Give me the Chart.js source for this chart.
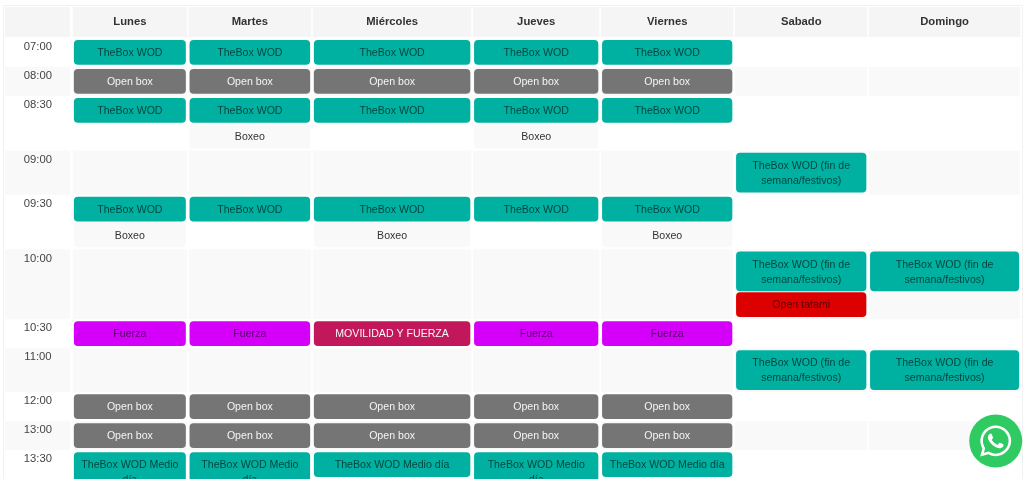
<!DOCTYPE html>
<html lang="es">
<head>
<meta charset="utf-8">
<style>html,body{margin:0;padding:0;background:#fff;overflow:hidden}canvas{display:block}</style>
<script src="https://cdn.jsdelivr.net/npm/chart.js@4/dist/chart.umd.min.js"></script>
</head>
<body>
<canvas id="c" width="1024" height="479"></canvas>
<script>
// ---- DATA ----
const days = ["Lunes","Martes","Miércoles","Jueves","Viernes","Sabado","Domingo"];
const times = ["07:00","08:00","08:30","09:00","09:30","10:00","10:30","11:00","12:00","13:00","13:30"];
// Which hour row each schedule slot belongs to (two entries = two stacked classes in that hour)
const slotTimes = ["07:00","08:00","08:30","08:30","09:00","09:30","09:30","10:00","10:00","10:30","11:00","12:00","13:00","13:30"];
const W="TheBox WOD", O="Open box", B="Boxeo", F="Fuerza", M="TheBox WOD Medio día",
      S="TheBox WOD (fin de semana/festivos)", T="Open tatami", V="MOVILIDAD Y FUERZA", _=null;
const lunes     = [W,O,W,_,_,W,B,_,_,F,_,O,O,M];
const martes    = [W,O,W,B,_,W,_,_,_,F,_,O,O,M];
const miercoles = [W,O,W,_,_,W,B,_,_,V,_,O,O,M];
const jueves    = [W,O,W,B,_,W,_,_,_,F,_,O,O,M];
const viernes   = [W,O,W,_,_,W,B,_,_,F,_,O,O,M];
const sabado    = [_,_,_,_,S,_,_,S,T,_,S,_,_,_];
const domingo   = [_,_,_,_,_,_,_,S,_,_,S,_,_,_];
const schedule  = [lunes,martes,miercoles,jueves,viernes,sabado,domingo];

// ---- STYLE / LAYOUT ----
const columnWidths = [115.7,124.3,160.2,128,134,134,152.8];
const styles = {
  [W]:{bg:"#00b1a1",fg:"rgba(0,0,0,.62)"},[M]:{bg:"#00b1a1",fg:"rgba(0,0,0,.62)"},[S]:{bg:"#00b1a1",fg:"rgba(0,0,0,.62)"},
  [O]:{bg:"#757575",fg:"#f5f5f5"},[B]:{bg:"#f9f9f9",fg:"#333"},
  [F]:{bg:"#d500f9",fg:"rgba(0,0,0,.6)"},[T]:{bg:"#dd0000",fg:"rgba(0,0,0,.6)"},[V]:{bg:"#c2185b",fg:"#f8f8f8"}
};
const FF = '"Liberation Sans", Arial, sans-serif';
const cardFont = "10.6px "+FF;
const AXIS_W = 72, AXIS_H = 38, cardInset = 2.2, cellInset = 0.8;
const oneLine = 24, twoLines = 39, innerGap = 1.8, rowGap = 5, firstTop = 2.3;

// column geometry
const colEdges = [0]; columnWidths.forEach(w => colEdges.push(colEdges[colEdges.length-1]+w));
const colCenters = columnWidths.map((w,i)=>colEdges[i]+w/2);

// text wrapping decides how tall each card is
const mctx = document.createElement("canvas").getContext("2d"); mctx.font = cardFont;
function wrap(text, maxW){
  const lines=[]; let cur="";
  for(const word of text.split(" ")){
    const t = cur? cur+" "+word : word;
    if(cur && mctx.measureText(t).width>maxW){lines.push(cur);cur=word;} else cur=t;
  }
  lines.push(cur); return lines;
}
const cardLines = schedule.map((col,d)=>col.map(t=> t? wrap(t,columnWidths[d]-2*cardInset-12):null));
const lineH = n => n>1 ? twoLines : oneLine;

// slot tops flow from the row structure
const slotTop=[]; const slotH=[];
let cursor=firstTop;
slotTimes.forEach((t,s)=>{
  if(s>0) cursor += (slotTimes[s-1]===t) ? innerGap : rowGap;
  const n = Math.max(...cardLines.map(c=>c[s]?c[s].length:1));
  const h = lineH(n);
  slotTop.push(cursor); slotH.push(h); cursor+=h;
});
const rowTop = times.map(t=>slotTop[slotTimes.indexOf(t)]-2.5);
const rowBottom = times.map(t=>{const s=slotTimes.lastIndexOf(t);return slotTop[s]+slotH[s]+2.5;});

const datasets = schedule.map((col,d)=>{
  const idx = col.map((t,s)=>t?s:-1).filter(s=>s>=0);
  return {
    label:days[d], stack:"agenda", barThickness:columnWidths[d]-2*cardInset,
    data: idx.map(s=>({x:colCenters[d], y:[slotTop[s], slotTop[s]+lineH(cardLines[d][s].length)], text:col[s], lines:cardLines[d][s]})),
    backgroundColor: idx.map(s=>styles[col[s]].bg),
    borderRadius:4, borderSkipped:false, borderWidth:0
  };
});

const tablePlugin = {
  id:"table",
  beforeDraw(chart){
    const {ctx,scales:{x,y}}=chart;
    ctx.save();
    ctx.fillStyle="#f1f1f1";
    ctx.fillRect(3,5,1019,1); ctx.fillRect(3,5,1,474); ctx.fillRect(1022,5,1,474);
    // header cells
    ctx.fillStyle="#f5f5f5";
    ctx.fillRect(5,7,65,30);
    columnWidths.forEach((w,i)=>{
      const l=x.getPixelForValue(colEdges[i]+cellInset), r=x.getPixelForValue(colEdges[i+1]-cellInset);
      ctx.fillRect(l,7,r-l,30);
    });
    // zebra rows
    ctx.fillStyle="#f9f9f9";
    times.forEach((t,i)=>{
      if(i%2===0) return;
      const top=y.getPixelForValue(rowTop[i]), bot=y.getPixelForValue(rowBottom[i]);
      ctx.fillRect(5,top,65,bot-top);
      columnWidths.forEach((w,c)=>{
        const l=x.getPixelForValue(colEdges[c]+cellInset), r=x.getPixelForValue(colEdges[c+1]-cellInset);
        ctx.fillRect(l,top,r-l,bot-top);
      });
    });
    ctx.restore();
  },
  afterDatasetsDraw(chart){
    const {ctx}=chart;
    ctx.save();
    ctx.font=cardFont;ctx.textAlign="center";ctx.textBaseline="middle";
    chart.data.datasets.forEach((ds,d)=>{
      chart.getDatasetMeta(d).data.forEach((el,i)=>{
        const item=ds.data[i], st=styles[item.text];
        ctx.fillStyle=st.fg;
        const cy=(el.base+el.y)/2+0.8, n=item.lines.length;
        item.lines.forEach((ln,k)=>ctx.fillText(ln,el.x,cy+(k-(n-1)/2)*15));
      });
    });
    ctx.restore();
  },
  afterDraw(chart){
    const {ctx}=chart;
    ctx.save();
    ctx.fillStyle="#2fcb62";
    ctx.beginPath();ctx.arc(995.7,441,26.5,0,Math.PI*2);ctx.fill();
    const s=31/448;
    ctx.translate(995.7-224*s,441-256*s);ctx.scale(s,s);
    ctx.fillStyle="#fff";
    ctx.fill(new Path2D("M380.9 97.1C339 55.1 283.2 32 223.9 32c-122.4 0-222 99.6-222 222 0 39.1 10.2 77.3 29.6 111L0 480l117.7-30.9c32.4 17.7 68.9 27 106.1 27h.1c122.3 0 224.1-99.6 224.1-222 0-59.3-25.2-115-67.1-157zm-157 341.6c-33.2 0-65.7-8.9-94-25.7l-6.7-4-69.8 18.3L72 359.2l-4.4-7c-18.5-29.4-28.2-63.3-28.2-98.2 0-101.7 82.8-184.5 184.6-184.5 49.3 0 95.6 19.2 130.4 54.1 34.8 34.9 56.2 81.2 56.1 130.5 0 101.8-84.9 184.6-186.6 184.6zm101.2-138.2c-5.5-2.8-32.8-16.2-37.9-18-5.1-1.9-8.8-2.8-12.5 2.8-3.7 5.6-14.3 18-17.6 21.8-3.2 3.7-6.5 4.2-12 1.4-32.6-16.3-54-29.1-75.5-66-5.7-9.8 5.7-9.1 16.3-30.3 1.8-3.7.9-6.9-.5-9.7-1.4-2.8-12.5-30.1-17.1-41.2-4.5-10.8-9.1-9.3-12.5-9.5-3.2-.2-6.9-.2-10.6-.2-3.7 0-9.7 1.4-14.8 6.9-5.1 5.6-19.4 19-19.4 46.3 0 27.3 19.9 53.7 22.6 57.4 2.8 3.7 39.1 59.7 94.8 83.8 35.2 15.2 49 16.5 66.6 13.9 10.7-1.6 32.8-13.4 37.4-26.4 4.6-13 4.6-24.1 3.2-26.4-1.3-2.5-5-3.9-10.5-6.6z"));
    ctx.restore();
  }
};

new Chart(document.getElementById("c"),{
  type:"bar",
  data:{datasets},
  plugins:[tablePlugin],
  options:{
    responsive:false, animation:false, devicePixelRatio:1,
    layout:{padding:0},
    plugins:{legend:{display:false},tooltip:{enabled:false}},
    scales:{
      x:{
        type:"linear", position:"top", min:0, max:952, offset:false,
        grid:{display:false,drawTicks:false}, border:{display:false},
        afterBuildTicks(s){ s.ticks=colCenters.map(v=>({value:v})); },
        afterFit(s){ s.height=AXIS_H; s.paddingLeft=0; s.paddingRight=0; },
        ticks:{autoSkip:false,maxRotation:0,padding:9,color:"#333",font:{family:FF,size:11.25,weight:"bold"},
          callback:(v,i)=>days[i]}
      },
      y:{
        type:"linear", position:"left", min:0, max:441, reverse:true, stacked:false,
        grid:{display:false,drawTicks:false}, border:{display:false},
        afterBuildTicks(s){ s.ticks=rowTop.map(v=>({value:v+9})); },
        afterFit(s){ s.width=AXIS_W; s.paddingTop=0; s.paddingBottom=0; },
        ticks:{autoSkip:false,crossAlign:"center",padding:20,color:"#444",font:{family:FF,size:11.25},
          callback:(v,i)=>times[i]}
      }
    }
  }
});
</script>
</body>
</html>
